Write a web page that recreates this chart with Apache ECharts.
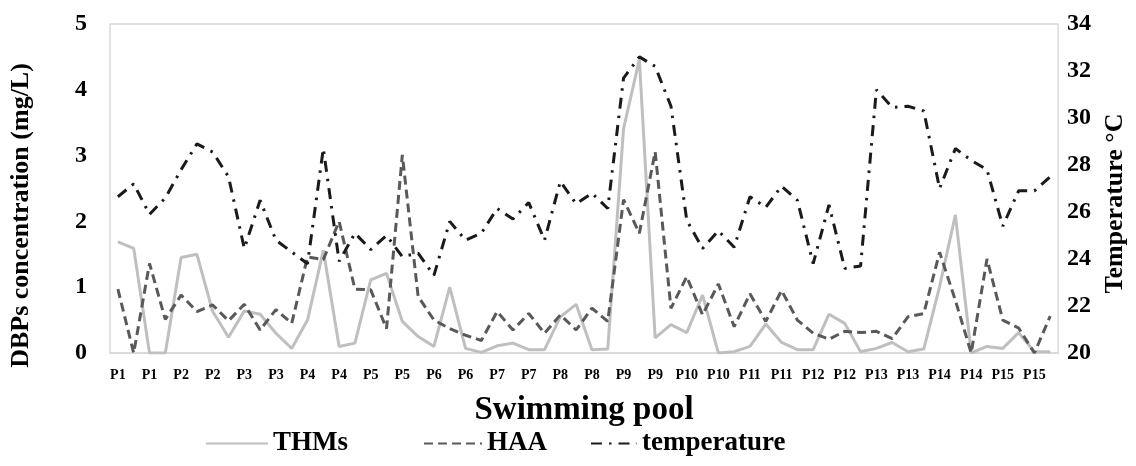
<!DOCTYPE html>
<html>
<head>
<meta charset="utf-8">
<script src="https://cdn.jsdelivr.net/npm/echarts@6/dist/echarts.min.js"></script>
<style>
html,body{margin:0;padding:0;background:#fff;}
#chart{width:1136px;height:466px;}
</style>
</head>
<body>
<div id="chart"></div>
<script>
const pools = ['P1','P2','P3','P4','P5','P6','P7','P8','P9','P10','P11','P12','P13','P14','P15'];
const samplesPerPool = 4;
const categories = [];
pools.forEach(p => { for (let k = 0; k < samplesPerPool; k++) categories.push(p); });

const thms = [1.69,1.59,0,0,1.45,1.50,0.63,0.24,0.64,0.59,0.30,0.07,0.50,1.56,0.10,0.15,1.11,1.21,0.48,0.25,
              0.10,1.00,0.07,0.01,0.11,0.15,0.05,0.05,0.55,0.74,0.05,0.06,3.41,4.46,0.23,0.43,0.31,0.88,0,0.02,
              0.10,0.44,0.16,0.05,0.05,0.59,0.45,0.02,0.07,0.16,0.02,0.06,1.01,2.10,0,0.10,0.07,0.31,0.02,0.02];
const haa = [0.97,0,1.36,0.51,0.88,0.63,0.73,0.49,0.74,0.35,0.66,0.45,1.46,1.42,2.00,0.97,0.96,0.37,3.01,0.86,
             0.50,0.37,0.27,0.19,0.63,0.35,0.60,0.30,0.58,0.35,0.68,0.48,2.33,1.82,3.06,0.68,1.16,0.58,1.05,0.40,
             0.90,0.48,0.95,0.50,0.30,0.21,0.33,0.31,0.33,0.22,0.55,0.60,1.53,0.80,0,1.43,0.50,0.38,0,0.56];
const temperature = [26.65,27.2,25.9,26.6,27.8,28.9,28.55,27.5,24.45,26.5,24.8,24.3,23.8,28.7,23.9,25.1,24.4,25.0,24.1,24.25,
                     23.3,25.6,24.8,25.1,26.15,25.7,26.4,24.8,27.3,26.35,26.8,26.15,31.7,32.6,32.2,30.5,25.65,24.45,25.2,24.5,
                     26.65,26.2,27.1,26.5,23.8,26.3,23.6,23.7,31.2,30.45,30.5,30.3,27.0,28.7,28.2,27.8,25.4,26.9,26.9,27.5];
const seriesNames = ['THMs', 'HAA', 'temperature'];

const FONT = "'Times New Roman', 'Liberation Serif', serif";
const legendText = {fontFamily: FONT, fontWeight: 'bold', fontSize: 27, color: '#000'};
function makeLegend(name, left, w) {
  return {
    data: [name], left: left, bottom: 4, itemWidth: w, itemHeight: 14, itemGap: 0,
    itemStyle: {opacity: 0},
    textStyle: legendText
  };
}
const chart = echarts.init(document.getElementById('chart'), null, {renderer: 'canvas'});
chart.setOption({
  animation: false,
  backgroundColor: '#ffffff',
  textStyle: {fontFamily: FONT},
  grid: {left: 106, right: 75, top: 24, bottom: 113, show: true, borderColor: '#d9d9d9', borderWidth: 1.5, containLabel: false},
  legend: [
    makeLegend(seriesNames[0], 200, 62),
    makeLegend(seriesNames[1], 418, 58),
    makeLegend(seriesNames[2], 585, 46)
  ],
  xAxis: {
    type: 'category', data: categories, boundaryGap: true,
    name: 'Swimming pool', nameLocation: 'middle', nameGap: 41,
    nameTextStyle: {fontFamily: FONT, fontWeight: 'bold', fontSize: 33, color: '#000'},
    axisLine: {show: true, lineStyle: {color: '#d9d9d9', width: 1.5}},
    axisTick: {show: false},
    axisLabel: {interval: 1, margin: 15, fontFamily: FONT, fontWeight: 'bold', fontSize: 14, color: '#000'}
  },
  yAxis: [
    {
      type: 'value', min: 0, max: 5, interval: 1,
      name: 'DBPs concentration (mg/L)', nameLocation: 'middle', nameGap: 76,
      nameTextStyle: {fontFamily: FONT, fontWeight: 'bold', fontSize: 26, color: '#000', padding: [0, 54, 0, 0]},
      axisLine: {show: false}, axisTick: {show: false}, splitLine: {show: false},
      axisLabel: {margin: 23, fontFamily: FONT, fontWeight: 'bold', fontSize: 24, color: '#000'}
    },
    {
      type: 'value', min: 20, max: 34, interval: 2, position: 'right',
      name: 'Temperature °C', nameLocation: 'middle', nameGap: 40,
      nameTextStyle: {fontFamily: FONT, fontWeight: 'bold', fontSize: 26, color: '#000', padding: [0, 30, 0, 0]},
      axisLine: {show: false}, axisTick: {show: false}, splitLine: {show: false},
      axisLabel: {margin: 9, fontFamily: FONT, fontWeight: 'bold', fontSize: 24, color: '#000'}
    }
  ],
  series: [
    {name: seriesNames[0], type: 'line', data: thms, yAxisIndex: 0, symbol: 'none',
     itemStyle: {color: '#bfbfbf'}, lineStyle: {color: '#bfbfbf', width: 3}},
    {name: seriesNames[1], type: 'line', data: haa, yAxisIndex: 0, symbol: 'none',
     itemStyle: {color: '#595959'}, lineStyle: {color: '#595959', width: 3, type: [9, 5]}},
    {name: seriesNames[2], type: 'line', data: temperature, yAxisIndex: 1, symbol: 'none',
     itemStyle: {color: '#1a1a1a'}, lineStyle: {color: '#1a1a1a', width: 3, type: [11, 7, 2.5, 7]}}
  ]
});
</script>
</body>
</html>
